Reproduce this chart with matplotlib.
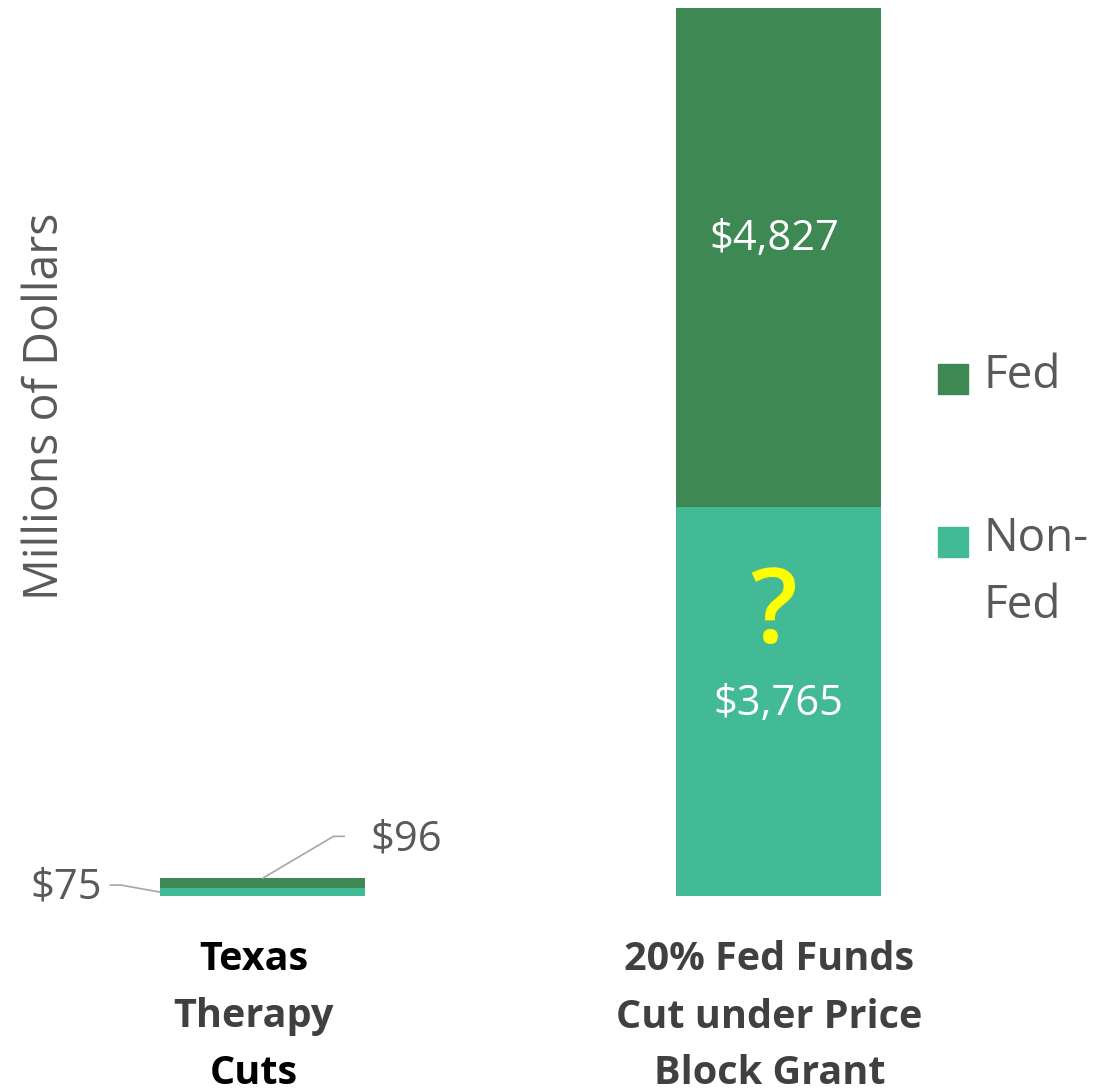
import matplotlib.pyplot as plt
from matplotlib.patches import Rectangle

## Données

categories = ['Texas\nTherapy\nCuts', '20% Fed Funds\nCut under Price\nBlock Grant']
non_fed = [75, 3765]
fed = [96, 4827]
non_fed_labels = ['$75', '$3,765']
fed_labels = ['$96', '$4,827']
series_names = ['Fed', 'Non-\nFed']
# couleur de chaque ligne des étiquettes de catégorie
cat_line_colors = [['black', '#404040', 'black'], ['#404040', '#404040', '#404040']]

c_fed = '#3E8853'
c_non_fed = '#43BA96'
c_text = '#595959'
c_leader = '#A6A6A6'

plt.rcParams['font.family'] = ['Open Sans', 'DejaVu Sans']

## Figure

W, H = 1114, 1089
fig = plt.figure(figsize=(W / 100, H / 100), dpi=100)
ax = fig.add_axes([100 / W, 193 / H, 840 / W, 888 / H])

x = list(range(len(categories)))
width = 0.397
ax.bar(x, non_fed, width, color=c_non_fed)
ax.bar(x, fed, width, bottom=non_fed, color=c_fed)

ax.set_xlim(-0.315, 1.313)
ax.set_ylim(0, 8592)
for s in ax.spines.values():
    s.set_visible(False)
ax.set_xticks([])
ax.set_yticks([])
ax.set_ylabel('Millions of Dollars', fontsize=33.5, color=c_text, va='center')
ax.yaxis.set_label_coords(-0.0655, 0.551)

# petite barre : étiquettes externes avec traits de rappel
top0 = non_fed[0] + fed[0]
ax.annotate('', xy=(x[0], top0), xytext=(82, 42), textcoords='offset pixels',
            arrowprops=dict(arrowstyle='-', color=c_leader, lw=1.2, shrinkA=0, shrinkB=0,
                            connectionstyle='angle,angleA=0,angleB=30.6,rad=0'))
ax.annotate(fed_labels[0], xy=(x[0], top0), xytext=(108, 39), textcoords='offset pixels',
            ha='left', va='center', fontsize=30, color=c_text)

left0 = x[0] - width / 2
ax.annotate('', xy=(left0, non_fed[0] / 2), xytext=(-50, 7), textcoords='offset pixels',
            arrowprops=dict(arrowstyle='-', color=c_leader, lw=1.2, shrinkA=0, shrinkB=0,
                            connectionstyle='angle,angleA=0,angleB=-10.2,rad=0'))
ax.annotate(non_fed_labels[0], xy=(left0, non_fed[0] / 2), xytext=(-58, 5),
            textcoords='offset pixels', ha='right', va='center', fontsize=30, color=c_text)

# grande barre : étiquettes internes
ax.annotate(non_fed_labels[1], xy=(x[1], non_fed[1] / 2), xytext=(0, -3),
            textcoords='offset pixels', ha='center', va='center', fontsize=30, color='white')
ax.annotate(fed_labels[1], xy=(x[1], non_fed[1] + fed[1] / 2), xytext=(-4, 18),
            textcoords='offset pixels', ha='center', va='center', fontsize=30, color='white')
ax.annotate('?', xy=(x[1], non_fed[1] * 0.72), xytext=(-5, 0), textcoords='offset pixels',
            ha='center', va='center', fontsize=74, fontweight='semibold', color='#FFFF00')

# étiquettes de catégorie
for i, cat in enumerate(categories):
    for j, line in enumerate(cat.split('\n')):
        ax.annotate(line, xy=(x[i], 0), xytext=(-9, -64 - 57 * j), textcoords='offset pixels',
                    ha='center', va='center', fontsize=28.5, fontweight='bold',
                    color=cat_line_colors[i][j], annotation_clip=False)

# légende
leg_y = [379, 542]
for name, col, yc in zip(series_names, [c_fed, c_non_fed], leg_y):
    fig.add_artist(Rectangle((938 / W, 1 - (yc + 15) / H), 30 / W, 30 / H,
                             transform=fig.transFigure, color=col))
    fig.text(983 / W, 1 - (yc - 26) / H, name, ha='left', va='top', fontsize=33,
             color=c_text, linespacing=1.6)

fig.savefig('out.png', dpi=100)
